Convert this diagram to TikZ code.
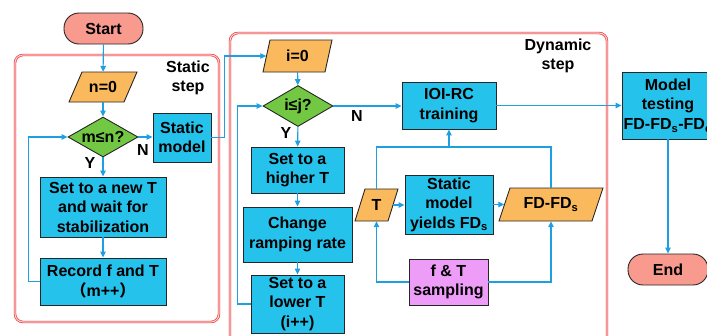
\documentclass[tikz,border=0pt]{standalone}
\usepackage{fontspec}
\setmainfont{Liberation Sans}
\newfontfamily\cjk{Noto Sans CJK SC}
\usetikzlibrary{arrows.meta,shapes.geometric}

\definecolor{boxblue}{HTML}{25C2EC}
\definecolor{paraorange}{HTML}{FBB95E}
\definecolor{decgreen}{HTML}{72C843}
\definecolor{termred}{HTML}{F99A8F}
\definecolor{samppink}{HTML}{ED9CF7}
\definecolor{flowblue}{HTML}{1E9FE0}
\definecolor{framered}{HTML}{EE2A2A}

% parallelogram outline: left, right, top, bottom, slant
\newcommand\paraoutline[5]{%
  \filldraw[parafill] ({#1+#5},#3) -- (#2,#3) -- ({#2-#5},#4) -- (#1,#4) -- cycle;}

\begin{document}
\begin{tikzpicture}[x=1pt,y=-1pt,
  lbl/.style={font=\bfseries\fontsize{16}{19.5}\selectfont, text=black, align=center, inner sep=0pt},
  proc/.style={lbl, draw=black!85, line width=0.9pt, fill=boxblue},
  sample/.style={proc, fill=samppink},
  term/.style={lbl, draw=black!85, line width=0.9pt, fill=termred, rounded corners=15pt},
  decide/.style={lbl, diamond, aspect=1.75, draw=black!85, line width=0.9pt, fill=decgreen},
  parafill/.style={draw=black!85, line width=0.9pt, fill=paraorange},
  frame/.style={draw=framered, line width=0.65pt, double=framered!22, double distance=1.1pt, rounded corners=8pt},
  flow/.style={draw=flowblue, line width=1.1pt, -{Triangle[length=6pt,width=5.5pt]}},
  link/.style={draw=flowblue, line width=1.1pt}]

\useasboundingbox (0,0) rectangle (707,335);

% group frames
\draw[frame] (15,55) rectangle (219,322);
\draw[frame] (230,33) rectangle (607,350);
\node[lbl] (stattitle) at (188,78) {Static\\step};
\node[lbl] (dyntitle) at (558,56) {Dynamic\\step};

% static step
\node[term, minimum width=79pt, minimum height=31pt] (start) at (103.5,28.5) {Start};
\paraoutline{69}{137}{72}{102}{13}
\node[lbl, minimum width=55pt, minimum height=30pt] (n0) at (103,87) {n=0};
\node[decide, minimum width=70pt, minimum height=40pt] (d1) at (103,137) {m≤n?};
\node[proc, minimum width=58pt, minimum height=49pt] (sm) at (182,137.5) {Static\\model};
\node[proc, minimum width=126pt, minimum height=60pt] (newT) at (103,207) {Set to a new T\\and wait for\\stabilization};
\node[proc, minimum width=126pt, minimum height=47pt] (rec) at (103,281.5) {Record f and T\\{\cjk（}m++{\cjk）}};

% dynamic step
\paraoutline{263}{332}{40}{72}{7}
\node[lbl, minimum width=62pt, minimum height=32pt] (i0) at (297.5,56) {i=0};
\node[decide, minimum width=70pt, minimum height=41pt] (d2) at (298,106) {i≤j?};
\node[proc, minimum width=93pt, minimum height=46pt] (hiT) at (297.5,170) {Set to a\\higher T};
\node[proc, minimum width=109pt, minimum height=55pt] (ramp) at (297.5,234.5) {Change\\ramping rate};
\node[proc, minimum width=93pt, minimum height=58pt] (loT) at (297.5,304) {Set to a\\lower T\\(i++)};
\node[proc, minimum width=94pt, minimum height=47pt] (ioi) at (449,105.5) {IOI-RC\\training};
\node[proc, minimum width=88pt, minimum height=59pt] (smy) at (449,204.5) {Static\\model\\yields FD\textsubscript{s}};
\paraoutline{355}{398}{189}{221}{10}
\node[lbl, minimum width=33pt, minimum height=32pt] (Tp) at (376.5,205) {T};
\paraoutline{499}{603}{188}{221}{11}
\node[lbl, minimum width=93pt, minimum height=33pt] (FDp) at (551,204.5) {FD-FD\textsubscript{s}};
\node[sample, minimum width=79pt, minimum height=46pt] (fts) at (448.5,282) {f \& T\\sampling};

% testing
\node[proc, minimum width=92pt, minimum height=67pt] (mt) at (668,105.5) {Model\\testing\\FD-FD\textsubscript{s}-FD\textsubscript{d}};
\node[term, minimum width=80pt, minimum height=31pt] (end) at (668,269.5) {End};

% connectors, static step
\draw[flow] (start) -- (n0);
\draw[flow] (n0) -- (d1);
\draw[flow] (d1.east) -- (d1.east -| sm.west);
\node[lbl] (n1) at (143,150) {N};
\draw[flow] (d1) -- (newT);
\node[lbl] (y1) at (90,163) {Y};
\draw[flow] (newT) -- (rec);
\draw[flow] (rec.west) -- ++(-11,0) |- (d1.west);
\draw[flow] (sm.east) -- ++(13,0) |- (i0.west);

% connectors, dynamic step
\draw[flow] (i0) -- (d2);
\draw[flow] (d2.east) -- (d2.east -| ioi.west);
\node[lbl] (n2) at (357,116) {N};
\draw[flow] (d2) -- (hiT);
\node[lbl] (y2) at (286,133) {Y};
\draw[flow] (hiT) -- (ramp);
\draw[flow] (ramp) -- (loT);
\draw[flow] (loT.west) -- ++(-13,0) |- (d2.west);
\coordinate (join) at (449,147);
\draw[link] (Tp.north) |- (join) -| (FDp.north);
\draw[flow] (join) -- (ioi.south);
\draw[flow] (Tp.east) -- (Tp.east -| smy.west);
\draw[flow] (smy.east) -- (smy.east -| FDp.west);
\draw[flow] (fts.west) -| (Tp.south);
\draw[flow] (fts.east) -| (FDp.south);

% connectors, testing
\draw[flow] (ioi.east) -- (ioi.east -| mt.west);
\draw[flow] (mt) -- (end);
\end{tikzpicture}
\end{document}
